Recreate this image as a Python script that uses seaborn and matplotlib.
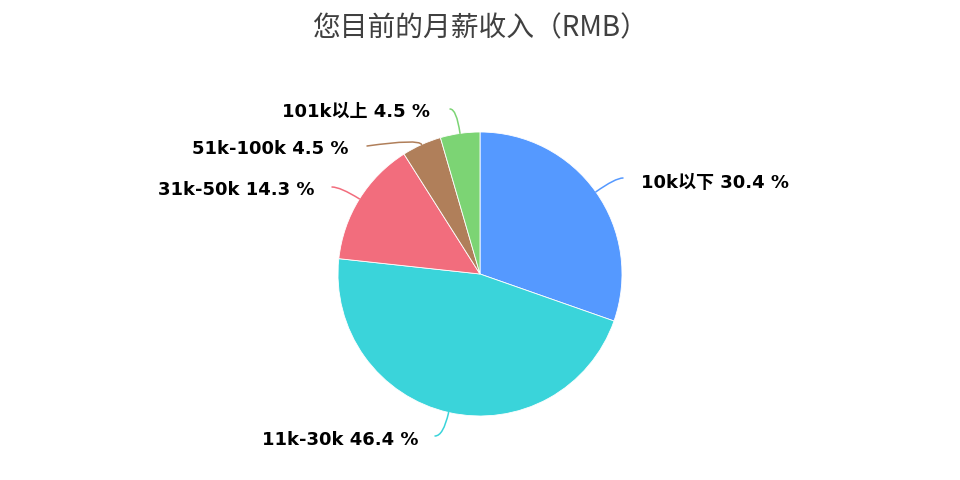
#################################################################################################
#   Required Header Files
#################################################################################################
import numpy as np
import matplotlib
matplotlib.use("Agg")
import matplotlib.pyplot as plt
import seaborn as sns

#################################################################################################
#   Chart Data
#################################################################################################
Title = "您目前的月薪收入（RMB）"
Categories = ["10k以下", "11k-30k", "31k-50k", "51k-100k", "101k以上"]
Percents = [30.4, 46.4, 14.3, 4.5, 4.5]
Colors = ["#5599ff", "#3ad4da", "#f26d7d", "#b07f5a", "#7cd474"]

#################################################################################################
#   Entry Point Function
#################################################################################################
def main() :
    sns.set_theme(style="white")
    plt.rcParams['font.family'] = ['DejaVu Sans', 'Noto Sans CJK SC']

    fig = plt.figure(figsize=(9.6, 4.8), dpi=100)
    ax = fig.add_axes([0, 0, 1, 1])

    Radius = 142
    Wedges, _ = ax.pie(Percents, colors=Colors, startangle=90, counterclock=False,
                       radius=Radius, center=(0, 0),
                       wedgeprops=dict(edgecolor="white", linewidth=0.6))

    # pie() resets the limits, so set them afterwards (pixel-like units)
    ax.set_xlim(-480, 480)
    ax.set_ylim(-206, 274)
    ax.set_aspect("equal")
    ax.axis("off")

    # leader line ends, label anchors and end angle per slice
    Ends = [(143, 96), (-45, -162), (-148, 87), (-113, 128), (-30, 165)]
    TextPos = [(161, 91), (-62, -166), (-165, 84), (-131, 125), (-50, 162)]
    EndAngles = [0, 0, 0, 8, 0]

    for w, cat, pct, col, end, tp, angB in zip(Wedges, Categories, Percents, Colors, Ends, TextPos, EndAngles) :
        mid_deg = (w.theta1 + w.theta2) / 2
        mid = np.deg2rad(mid_deg)
        start = (Radius * np.cos(mid), Radius * np.sin(mid))
        ax.annotate("", xy=end, xytext=start,
                    arrowprops=dict(arrowstyle="-", color=col, lw=1.1,
                                    connectionstyle=f"angle3,angleA={mid_deg},angleB={angB}",
                                    shrinkA=0, shrinkB=0))
        ha = "left" if tp[0] > 0 else "right"
        ax.text(tp[0], tp[1], f"{cat} {pct} %", ha=ha, va="center",
                fontsize=13, fontweight="bold", color="black")

    fig.text(0.5, 1 - 28 / 480, Title, ha="center", va="center",
             fontsize=20, color="#404040", fontweight="medium",
             family=['Noto Sans CJK SC', 'DejaVu Sans'])

    fig.savefig("out.png", dpi=100)

#################################################################################################
#   Starter
#################################################################################################
if __name__ == "__main__" :
    main()
